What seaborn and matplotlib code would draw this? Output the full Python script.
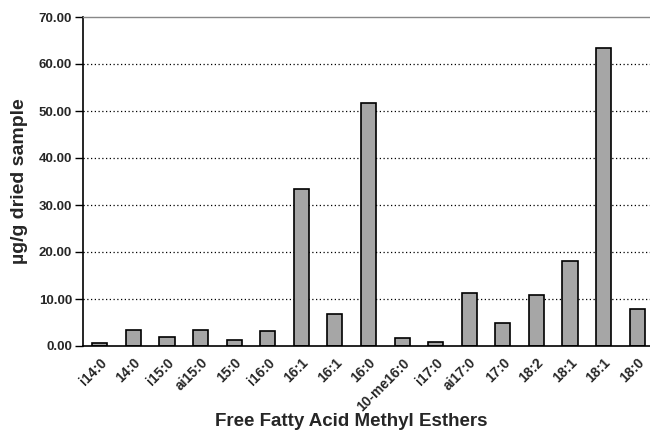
import numpy as np
import pandas as pd
import matplotlib
matplotlib.use("Agg")
import matplotlib.pyplot as plt
import seaborn as sns

# ============================================
# Data
# ============================================
acids = ["i14:0", "14:0", "i15:0", "ai15:0", "15:0", "i16:0", "16:1", "16:1",
         "16:0", "10-me16:0", "i17:0", "ai17:0", "17:0", "18:2", "18:1", "18:1", "18:0"]
conc = [0.6, 3.5, 2.0, 3.3, 1.3, 3.1, 33.3, 6.8,
        51.6, 1.6, 0.9, 11.3, 5.0, 10.9, 18.0, 63.4, 7.9]

df = pd.DataFrame({"pos": np.arange(len(acids)), "acid": acids, "conc": conc})

# ============================================
# Plot
# ============================================
sns.set_style("white")
plt.rcParams["font.family"] = ["Liberation Sans", "DejaVu Sans"]

fig = plt.figure(figsize=(6.5, 4.32), dpi=100)
ax = fig.add_axes([83 / 650, 86 / 432, 571 / 650, 329 / 432])

sns.barplot(data=df, x="pos", y="conc", color="#a6a6a6", saturation=1,
            edgecolor="black", linewidth=1.2, width=0.45, ax=ax)

ax.set_xlim(-0.5, len(acids) - 0.5)
ax.set_ylim(0, 70)
ax.set_yticks(np.arange(0, 71, 10))
ax.set_yticklabels([f"{v:.2f}" for v in np.arange(0, 71, 10)],
                   fontsize=9.5, fontweight="bold")

# labels on category centres, tick marks on category borders
ax.set_xticks(np.arange(len(acids)))
ax.set_xticklabels(acids, rotation=45, ha="right", rotation_mode="anchor",
                   fontsize=10, fontweight="bold")
ax.set_xticks(np.arange(len(acids) + 1) - 0.5, minor=True)
ax.tick_params(axis="x", which="major", length=0, pad=7)
ax.tick_params(axis="x", which="minor", length=5, width=1, color="black", direction="out")
ax.tick_params(axis="y", length=6, width=1, color="black", direction="out", left=True, pad=2)

# dotted gridlines
for v in range(10, 70, 10):
    ax.axhline(v, color="black", linestyle=(0, (1, 2)), linewidth=0.9, zorder=0)

for s in ["left", "bottom"]:
    ax.spines[s].set_color("black")
    ax.spines[s].set_linewidth(1.2)
ax.spines["top"].set_color("#888888")
ax.spines["top"].set_linewidth(1)
ax.spines["right"].set_visible(False)

ax.set_xlabel("Free Fatty Acid Methyl Esthers", fontsize=13.5, fontweight="bold")
ax.xaxis.set_label_coords((351 - 83) / 571, -0.205)
ax.set_ylabel("µg/g dried sample", fontsize=14, fontweight="bold")
ax.yaxis.set_label_coords(-0.097, 0.5)

fig.savefig("out.png", dpi=100)
